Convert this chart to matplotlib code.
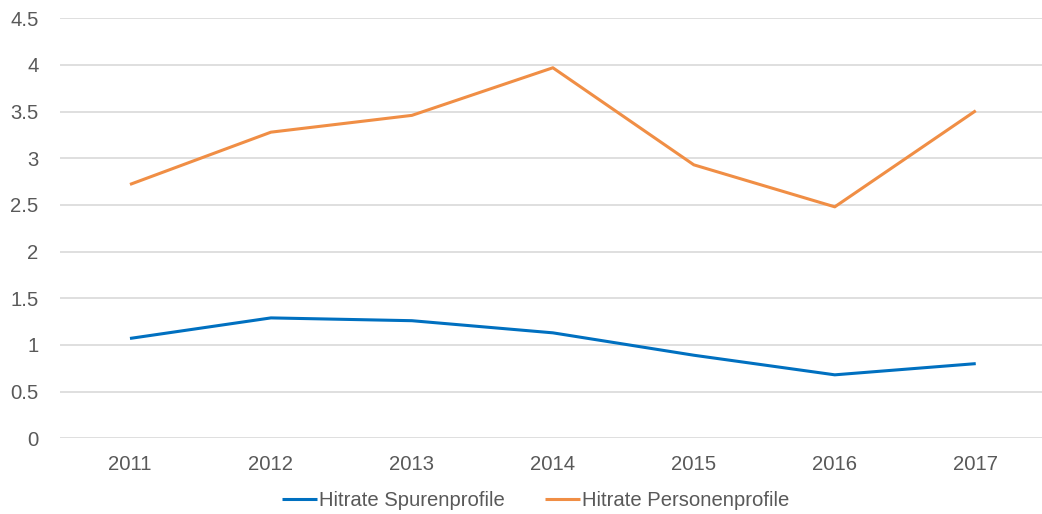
import matplotlib

matplotlib.use("Agg")
import matplotlib.pyplot as plt
import numpy as np

plt.rcParams["font.family"] = ["Liberation Sans", "DejaVu Sans"]

YEARS = ["2011", "2012", "2013", "2014", "2015", "2016", "2017"]
SPUREN = [1.07, 1.29, 1.26, 1.13, 0.89, 0.68, 0.80]
PERSONEN = [2.72, 3.28, 3.46, 3.97, 2.93, 2.48, 3.51]

W, H = 1042, 514
fig = plt.figure(figsize=(W / 100, H / 100), dpi=100)
ax = fig.add_axes([59.5 / W, 75.7 / H, (W - 59.5) / W, (438.3 - 18.3) / H])

x = np.arange(len(YEARS))
ax.plot(x, SPUREN, color="#0070C0", lw=2.2, label="Hitrate Spurenprofile",
        solid_capstyle="butt")
ax.plot(x, PERSONEN, color="#F08E45", lw=2.2, label="Hitrate Personenprofile",
        solid_capstyle="butt")

ax.set_xlim(-0.5, 6.47)
ax.set_ylim(0, 4.5)
ax.set_yticks(np.arange(0, 4.51, 0.5))
ax.set_yticklabels(["0", "0.5", "1", "1.5", "2", "2.5", "3", "3.5", "4", "4.5"])
ax.set_xticks(x)
ax.set_xticklabels(YEARS)
ax.tick_params(axis="both", length=0, labelsize=14.6, colors="#595959")
ax.tick_params(axis="y", pad=15)
ax.tick_params(axis="x", pad=12)
ax.grid(axis="y", color="#D9D9D9", lw=1.2)
ax.set_axisbelow(True)
for s in ax.spines.values():
    s.set_visible(False)

leg = ax.legend(loc="center", bbox_to_anchor=(535.5 / W, 13 / H),
                bbox_transform=fig.transFigure, ncol=2, frameon=False,
                fontsize=14.6, labelcolor="#595959", handlelength=1.75,
                handletextpad=0.1, columnspacing=1.95, borderpad=0)

fig.savefig("out.png", dpi=100)
